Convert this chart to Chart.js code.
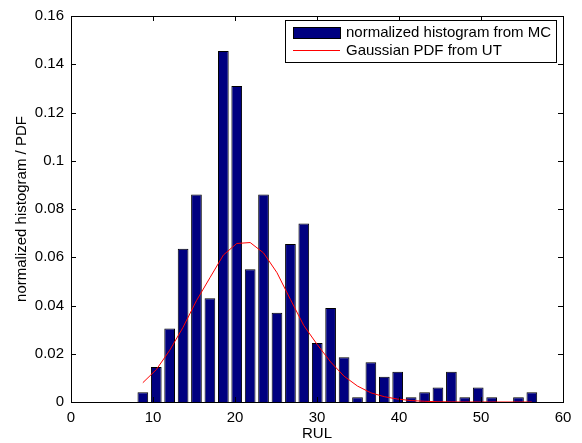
<!DOCTYPE html>
<html>
<head>
<meta charset="utf-8">
<script src="https://cdn.jsdelivr.net/npm/chart.js@4.4.1/dist/chart.umd.min.js"></script>
<style>
  body { margin: 0; background: #fff; }
  #wrap { width: 582px; height: 443px; }
</style>
</head>
<body>
<div id="wrap"><canvas id="hist"></canvas></div>
<script>
// bin centres of the 30-bin histogram (RUL)
const binCenters = [8.76, 10.40, 12.03, 13.67, 15.30, 16.94, 18.58, 20.21, 21.85, 23.48,
  25.12, 26.76, 28.39, 30.03, 31.66, 33.30, 34.94, 36.57, 38.21, 39.84,
  41.48, 43.12, 44.75, 46.39, 48.02, 49.66, 51.30, 52.93, 54.57, 56.20];

// normalized counts from the Monte Carlo runs
const mcFreq = [0.004, 0.0145, 0.0305, 0.0635, 0.086, 0.043, 0.1455, 0.131, 0.055, 0.086,
  0.037, 0.0655, 0.074, 0.0245, 0.039, 0.0185, 0.002, 0.0165, 0.0105, 0.0125,
  0.002, 0.004, 0.006, 0.0125, 0.002, 0.006, 0.002, 0, 0.002, 0.004];

// gaussian pdf from the unscented transform, sampled at the same centres
const utPdf = [0.008, 0.0134, 0.0214, 0.031, 0.042, 0.0515, 0.0609, 0.0657, 0.0661, 0.0618,
  0.0536, 0.0425, 0.0317, 0.0238, 0.0166, 0.0107, 0.0066, 0.0038, 0.0022, 0.0012,
  0.0006, 0.0003, 0.0001, 0.00005, 0, 0, 0, 0, 0, 0];

const xTicks = [0, 10, 20, 30, 40, 50, 60];
const yTicks = [0, 0.02, 0.04, 0.06, 0.08, 0.1, 0.12, 0.14, 0.16];

const FONT = "'Liberation Sans', Arial, Helvetica, sans-serif";
Chart.defaults.font.family = FONT;
Chart.defaults.font.size = 15;
Chart.defaults.color = '#000';

// matlab style axes: closed box with ticks pointing inwards, plus boxed legend
const matlabAxes = {
  id: 'matlabAxes',
  afterDatasetsDraw(chart) {
    const ctx = chart.ctx;
    const a = chart.chartArea;
    const xs = chart.scales.x, ys = chart.scales.y;
    const tl = 5;
    ctx.save();
    ctx.strokeStyle = '#000';
    ctx.lineWidth = 1;
    ctx.beginPath();
    xTicks.forEach(v => {
      const px = Math.round(xs.getPixelForValue(v)) + 0.5;
      ctx.moveTo(px, a.bottom); ctx.lineTo(px, a.bottom - tl);
      ctx.moveTo(px, a.top); ctx.lineTo(px, a.top + tl);
    });
    yTicks.forEach(v => {
      const py = Math.round(ys.getPixelForValue(v)) + 0.5;
      ctx.moveTo(a.left, py); ctx.lineTo(a.left + tl, py);
      ctx.moveTo(a.right, py); ctx.lineTo(a.right - tl, py);
    });
    ctx.stroke();
    ctx.strokeRect(Math.round(a.left) + 0.5, Math.round(a.top) + 0.5,
      Math.round(a.right - a.left), Math.round(a.bottom - a.top));

    // legend box
    const lx = 285.5, ly = 20.5, lw = 271, lh = 42;
    ctx.fillStyle = '#fff';
    ctx.fillRect(lx, ly, lw, lh);
    ctx.strokeRect(lx, ly, lw, lh);
    const ds = chart.data.datasets;
    ctx.font = '15px ' + FONT;
    ctx.textBaseline = 'middle';
    ctx.textAlign = 'left';
    // bar entry
    ctx.fillStyle = ds[0].backgroundColor;
    ctx.fillRect(293.5, 27.5, 47, 11);
    ctx.strokeRect(293.5, 27.5, 47, 11);
    ctx.fillStyle = '#000';
    ctx.fillText(ds[0].label, 346, 33);
    // line entry
    ctx.strokeStyle = ds[1].borderColor;
    ctx.beginPath();
    ctx.moveTo(293, 50.5); ctx.lineTo(340, 50.5);
    ctx.stroke();
    ctx.fillText(ds[1].label, 346, 51);
    ctx.restore();
  }
};

new Chart(document.getElementById('hist'), {
  type: 'bar',
  data: {
    datasets: [{
      type: 'bar',
      label: 'normalized histogram from MC',
      data: binCenters.map((x, i) => ({ x: x, y: mcFreq[i] })),
      backgroundColor: '#000080',
      borderColor: '#000',
      borderWidth: 1,
      barPercentage: 0.8,
      categoryPercentage: 1.0,
      grouped: false,
      order: 2
    }, {
      type: 'line',
      label: 'Gaussian PDF from UT',
      data: binCenters.map((x, i) => ({ x: x, y: utPdf[i] })),
      borderColor: '#ff0000',
      borderWidth: 1,
      pointRadius: 0,
      tension: 0,
      fill: false,
      order: 1
    }]
  },
  options: {
    responsive: true,
    maintainAspectRatio: false,
    animation: false,
    layout: { padding: { top: 13, right: 19, left: 0, bottom: 0 } },
    scales: {
      x: {
        type: 'linear',
        min: 0,
        max: 60,
        offset: false,
        afterFit: s => { s.height = 41; },
        afterBuildTicks: s => { s.ticks = xTicks.map(v => ({ value: v })); },
        grid: { display: false, drawTicks: false, offset: false },
        border: { display: false },
        ticks: { padding: 7, maxRotation: 0 },
        title: { display: true, text: 'RUL', padding: { top: 1, bottom: 0 } }
      },
      y: {
        min: 0,
        max: 0.16,
        afterFit: s => { s.width = 71; },
        afterBuildTicks: s => { s.ticks = yTicks.map(v => ({ value: v })); },
        grid: { display: false, drawTicks: false },
        border: { display: false },
        ticks: { padding: 7, callback: v => String(+v.toFixed(2)) },
        title: { display: true, text: 'normalized histogram / PDF', padding: { top: 13, bottom: 0 } }
      }
    },
    plugins: {
      legend: { display: false },
      tooltip: { enabled: false }
    }
  },
  plugins: [matlabAxes]
});
</script>
</body>
</html>
